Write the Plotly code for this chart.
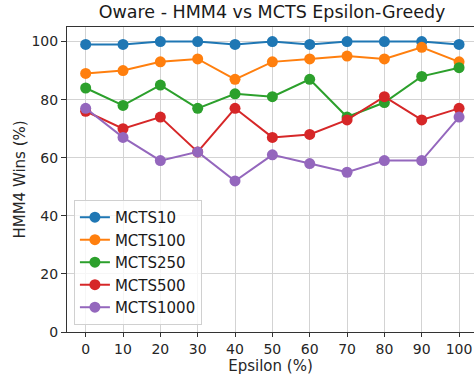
import plotly.graph_objects as go

epsilon = [0, 10, 20, 30, 40, 50, 60, 70, 80, 90, 100]
mcts10 = [99, 99, 100, 100, 99, 100, 99, 100, 100, 100, 99]
mcts100 = [89, 90, 93, 94, 87, 93, 94, 95, 94, 98, 93]
mcts250 = [84, 78, 85, 77, 82, 81, 87, 74, 79, 88, 91]
mcts500 = [76, 70, 74, 62, 77, 67, 68, 73, 81, 73, 77]
mcts1000 = [77, 67, 59, 62, 52, 61, 58, 55, 59, 59, 74]

series = [
    ("MCTS10", mcts10, "#1f77b4"),
    ("MCTS100", mcts100, "#ff7f0e"),
    ("MCTS250", mcts250, "#2ca02c"),
    ("MCTS500", mcts500, "#d62728"),
    ("MCTS1000", mcts1000, "#9467bd"),
]

font = "DejaVu Sans"
fig = go.Figure()
for name, vals, color in series:
    fig.add_trace(go.Scatter(
        x=epsilon, y=vals, name=name, mode="lines+markers",
        line=dict(color=color, width=2),
        marker=dict(color=color, size=11),
    ))

fig.update_layout(
    width=474, height=376,
    margin=dict(l=67, r=0, t=27, b=44),
    paper_bgcolor="white", plot_bgcolor="white",
    font=dict(family=font, color="#262626", size=14),
    title=dict(text="Oware - HMM4 vs MCTS Epsilon-Greedy", x=0.574, xanchor="center",
               y=0.985, yanchor="top", font=dict(size=17.5, color="#1a1a1a")),
    legend=dict(x=0.017, y=0.023, xanchor="left", yanchor="bottom",
                bgcolor="rgba(255,255,255,0.8)", bordercolor="#d0d0d0", borderwidth=1,
                font=dict(size=15, color="#1a1a1a")),
)
fig.update_xaxes(
    range=[-5, 104], tickvals=epsilon, showgrid=True, gridcolor="#d3d3d3", gridwidth=1,
    zeroline=False, showline=True, linecolor="#333", linewidth=1, mirror=True,
    ticks="outside", ticklen=4, tickcolor="#333",
    title=dict(text="Epsilon (%)", font=dict(size=15), standoff=2),
)
fig.update_yaxes(
    range=[0, 105], tickvals=[0, 20, 40, 60, 80, 100], showgrid=True, gridcolor="#d3d3d3",
    gridwidth=1, zeroline=False, showline=True, linecolor="#333", linewidth=1,
    ticks="outside", ticklen=5, tickcolor="#333",
    title=dict(text="HMM4 Wins (%)", font=dict(size=15), standoff=2),
)

fig.write_html("out.html")
